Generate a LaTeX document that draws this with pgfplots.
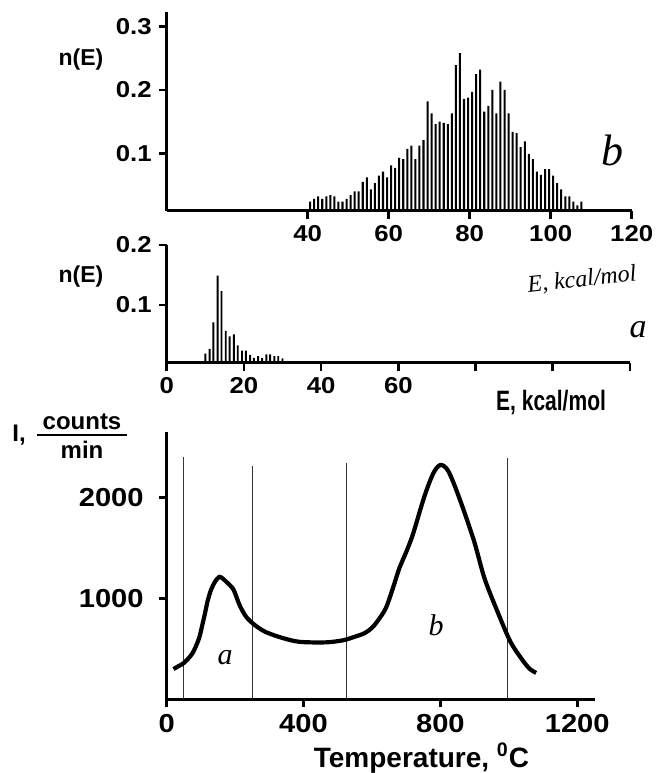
\documentclass[border=0pt]{standalone}
\usepackage{fontspec}
\setmainfont{Liberation Sans}
\newfontfamily\tickfont{Liberation Sans}[FakeStretch=1.12]
\newfontfamily\hand{Liberation Serif}
\usepackage{graphicx}
\usepackage{pgfplots}
\pgfplotsset{compat=1.18}
\usepackage{pgfplotstable}

% n(E) histogram, high-energy states (b)
\pgfplotstableread{
E n
40.6 0.024
41.6 0.028
42.6 0.032
43.6 0.028
44.6 0.032
45.6 0.034
46.6 0.032
47.6 0.024
48.6 0.024
49.6 0.028
50.6 0.034
51.6 0.040
52.6 0.040
53.6 0.055
54.6 0.062
55.6 0.043
56.6 0.053
57.6 0.065
58.6 0.071
59.6 0.062
60.6 0.081
61.6 0.077
62.6 0.093
63.6 0.091
64.6 0.107
65.6 0.112
66.6 0.091
67.6 0.112
68.6 0.121
69.6 0.182
70.6 0.163
71.6 0.146
72.6 0.150
73.6 0.148
74.6 0.146
75.6 0.163
76.6 0.239
77.6 0.258
78.6 0.186
79.6 0.188
80.6 0.197
81.6 0.225
82.6 0.232
83.6 0.166
84.6 0.175
85.6 0.200
86.6 0.163
87.6 0.213
88.6 0.200
89.6 0.163
90.6 0.134
91.6 0.132
92.6 0.110
93.6 0.119
94.6 0.099
95.6 0.091
96.6 0.071
97.6 0.066
98.6 0.075
99.6 0.075
100.6 0.065
101.6 0.053
102.6 0.043
103.6 0.032
104.6 0.032
105.6 0.024
106.6 0.018
107.6 0.024
}\histb

% n(E) histogram, low-energy states (a)
\pgfplotstableread{
E n
10.0 0.019
11.1 0.027
12.1 0.071
13.2 0.149
14.2 0.123
15.3 0.057
16.3 0.048
17.4 0.051
18.4 0.033
19.5 0.024
20.5 0.024
21.6 0.017
22.6 0.012
23.7 0.015
24.7 0.012
25.8 0.018
26.8 0.018
27.9 0.015
28.9 0.015
30.0 0.011
}\hista

% thermodesorption curve
\pgfplotstableread{
T I
20 300
35 330
50 360
75 455
94 600
105 750
113 870
120 980
130 1090
142 1170
154 1215
165 1195
176 1160
195 1090
213 935
232 820
257 738
289 668
339 608
389 570
465 565
515 585
540 610
578 655
600 710
615 770
640 900
660 1090
680 1300
700 1460
720 1640
753 2010
779 2240
800 2325
823 2265
854 2010
898 1575
929 1200
967 870
1005 570
1042 380
1062 300
1080 262
}\tds

\pgfplotsset{panel/.style={
  scale only axis, anchor=south west,
  axis x line*=bottom, axis y line*=left,
  axis line style={line width=1.5pt},
  tick align=outside, major tick length=4pt,
  every tick/.append style={black, line width=1.3pt},
  minor tick num=0,
  tick label style={font=\tickfont\bfseries\fontsize{11.5}{13}\selectfont},
}}

\begin{document}
\begin{tikzpicture}
\useasboundingbox (0,0) rectangle (333.5pt,386.5pt);

% panel b
\begin{axis}[panel, at={(83.35pt,281.15pt)}, width=232.5pt, height=99.35pt,
  xmin=5.2, xmax=120, ymin=0.0095, ymax=0.323,
  xtick={40,60,80,100,120}, xticklabels={40,60,80,100,120},
  ytick={0.1,0.2,0.3}, yticklabels={0.1,0.2,0.3}]
  \addplot[ybar, bar width=0.5, fill=black, draw=none] table[x=E, y=n] {\histb};
\end{axis}

% panel a
\begin{axis}[panel, at={(83.35pt,205.15pt)}, width=231.65pt, height=58.85pt,
  xmin=0, xmax=120, ymin=0.004, ymax=0.2,
  xtick={0,20,40,60,80,100,120}, xticklabels={0,20,40,60,{},{},{}},
  ytick={0.1,0.2}, yticklabels={0.1,0.2}]
  \addplot[ybar, bar width=0.5, fill=black, draw=none] table[x=E, y=n] {\hista};
\end{axis}

% TDS panel
\begin{axis}[panel, at={(83.35pt,36.85pt)}, width=214.15pt, height=133.8pt,
  xmin=0, xmax=1252, ymin=0, ymax=2655,
  xtick={0,400,800,1200}, xticklabels={0,400,800,1200},
  ytick={1000,2000}, yticklabels={1000,2000},
  tick label style={font=\tickfont\bfseries\fontsize{13}{15}\selectfont},
  yticklabel style={xshift=-4pt}]
  \addplot[line width=0.45pt, black!80] coordinates {(50,0) (50,2400)};
  \addplot[line width=0.45pt, black!80] coordinates {(250,0) (250,2310)};
  \addplot[line width=0.45pt, black!80] coordinates {(525,0) (525,2340)};
  \addplot[line width=0.45pt, black!80] coordinates {(996,0) (996,2390)};
  \addplot[line width=2.1pt, black, smooth, tension=0.5] table[x=T, y=I] {\tds};
\end{axis}

% labels
\node[font=\bfseries\fontsize{11.5}{13}\selectfont] at (40.5pt,356.5pt) {n(E)};
\node[font=\bfseries\fontsize{11.5}{13}\selectfont] at (40.5pt,248pt) {n(E)};
\node[anchor=east, font=\bfseries\fontsize{14}{16}\selectfont] at (306.5pt,185.15pt)
  {\scalebox{0.75}[1]{E, kcal/mol}};
\node[font=\bfseries\fontsize{14}{16}\selectfont] at (210.75pt,7.5pt)
  {Temperature, \textsuperscript{0}C};
\node[font=\bfseries\fontsize{12}{14}\selectfont] at (9.5pt,169pt) {I,};
\node[font=\bfseries\fontsize{12}{14}\selectfont] at (41pt,175.5pt) {counts};
\node[font=\bfseries\fontsize{12}{14}\selectfont] at (41pt,161.5pt) {min};
\draw[line width=1.4pt] (18.5pt,169pt) -- (63.5pt,169pt);

% handwritten annotations
\node[font=\hand\itshape\fontsize{22}{24}\selectfont] at (306pt,311.5pt) {b};
\node[font=\hand\itshape\fontsize{12}{14}\selectfont, rotate=6] at (291pt,246.5pt) {E, kcal/mol};
\node[font=\hand\itshape\fontsize{17}{19}\selectfont] at (319pt,221.5pt) {a};
\node[font=\hand\itshape\fontsize{15}{17}\selectfont] at (112.5pt,57.5pt) {a};
\node[font=\hand\itshape\fontsize{15}{17}\selectfont] at (218pt,74pt) {b};
\end{tikzpicture}
\end{document}
